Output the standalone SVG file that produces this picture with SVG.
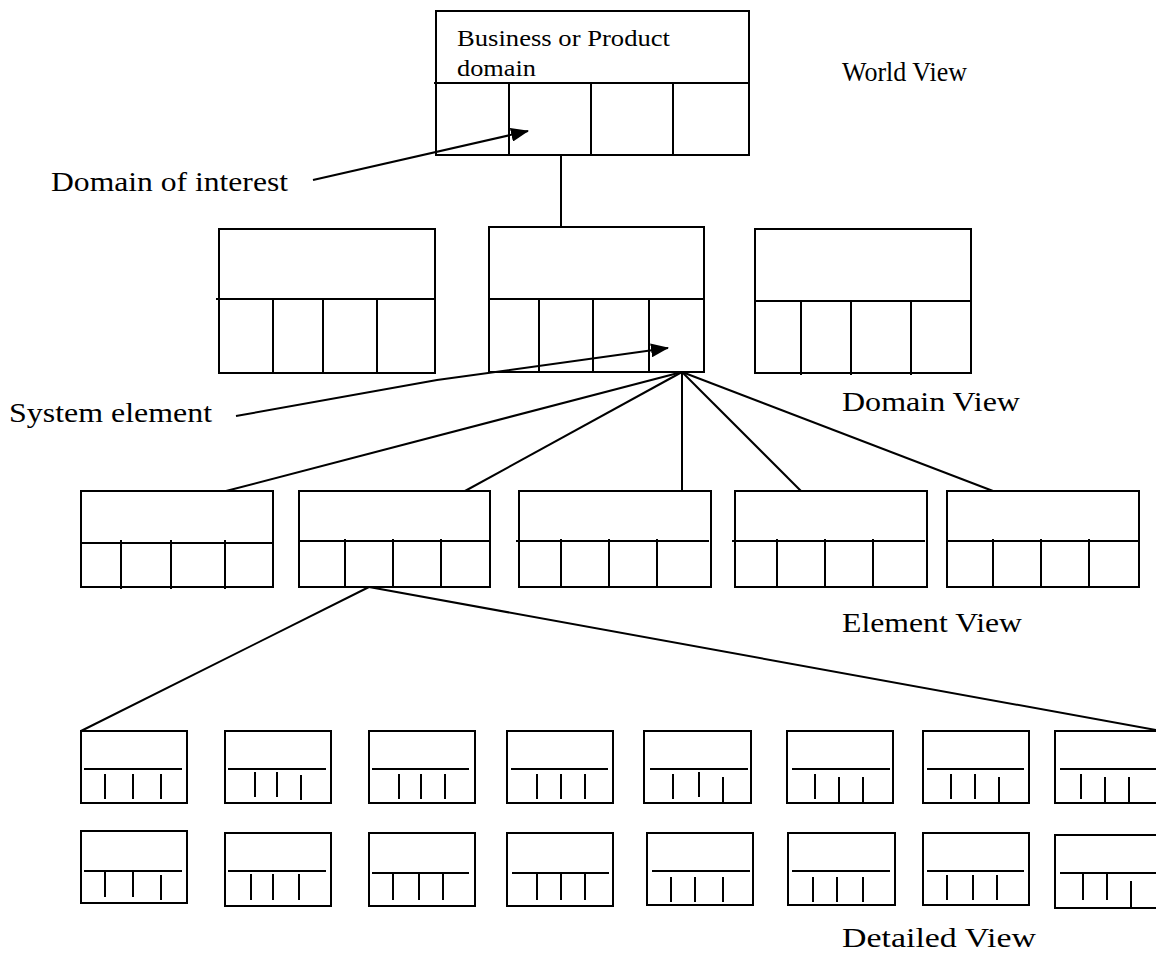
<svg xmlns="http://www.w3.org/2000/svg" width="1156" height="966" viewBox="0 0 1156 966">
  <defs>
    <marker id="arrow" viewBox="0 0 18 14" refX="17" refY="7" markerWidth="18" markerHeight="14" markerUnits="userSpaceOnUse" orient="auto">
      <path d="M0,0 L18,7 L0,14 z" fill="#000"/>
    </marker>
    <style>
      .box { fill: #fff; stroke: #000; stroke-width: 2; }
      .ln { stroke: #000; stroke-width: 2; fill: none; }
      .lbl { font-family: "Liberation Serif", "Times New Roman", serif; font-size: 28px; fill: #000; }
      .small { font-family: "Liberation Serif", "Times New Roman", serif; font-size: 23px; fill: #000; }
    </style>
  </defs>
  <rect width="1156" height="966" fill="#fff"/>

  <!-- tree connectors (drawn beneath the boxes) -->
  <g id="connectors">
    <line class="ln" x1="561" y1="155" x2="561" y2="228"/>
    <!-- fan from the selected domain to the element row -->
    <line class="ln" x1="682" y1="372" x2="226" y2="491"/>
    <line class="ln" x1="682" y1="372" x2="465" y2="491"/>
    <line class="ln" x1="682" y1="372" x2="682" y2="491"/>
    <line class="ln" x1="682" y1="372" x2="801" y2="491"/>
    <line class="ln" x1="682" y1="372" x2="993" y2="491"/>
    <!-- fan from the selected element to the detailed row -->
    <line class="ln" x1="369" y1="587" x2="81" y2="731"/>
    <line class="ln" x1="369" y1="587" x2="1156" y2="730"/>
  </g>

  <!-- world view -->
  <g id="world">
    <rect class="box" x="436" y="11" width="313" height="144"/>
    <line class="ln" x1="434" y1="83" x2="749" y2="83"/>
    <line class="ln" x1="509" y1="83" x2="509" y2="155"/>
    <line class="ln" x1="591" y1="83" x2="591" y2="155"/>
    <line class="ln" x1="673" y1="83" x2="673" y2="155"/>
    <text class="small" x="457" y="46" textLength="213" lengthAdjust="spacingAndGlyphs">Business or Product</text>
    <text class="small" x="457" y="76" textLength="79" lengthAdjust="spacingAndGlyphs">domain</text>
  </g>

  <!-- domain view -->
  <g id="domain-a">
    <rect class="box" x="219" y="229" width="216" height="144"/>
    <line class="ln" x1="216" y1="299" x2="435" y2="299"/>
    <line class="ln" x1="273" y1="299" x2="273" y2="373"/>
    <line class="ln" x1="323" y1="299" x2="323" y2="373"/>
    <line class="ln" x1="377" y1="299" x2="377" y2="373"/>
  </g>
  <g id="domain-b">
    <rect class="box" x="489" y="227" width="215" height="145"/>
    <line class="ln" x1="489" y1="299" x2="704" y2="299"/>
    <line class="ln" x1="539" y1="299" x2="539" y2="372"/>
    <line class="ln" x1="593" y1="299" x2="593" y2="372"/>
    <line class="ln" x1="649" y1="299" x2="649" y2="372"/>
  </g>
  <g id="domain-c">
    <rect class="box" x="755" y="229" width="216" height="144"/>
    <line class="ln" x1="755" y1="301" x2="971" y2="301"/>
    <line class="ln" x1="801" y1="301" x2="801" y2="375"/>
    <line class="ln" x1="851" y1="301" x2="851" y2="375"/>
    <line class="ln" x1="911" y1="301" x2="911" y2="375"/>
  </g>

  <!-- element view -->
  <g id="element-1">
    <rect class="box" x="81" y="491" width="192" height="96"/>
    <line class="ln" x1="81" y1="543" x2="273" y2="543"/>
    <line class="ln" x1="121" y1="540" x2="121" y2="589"/>
    <line class="ln" x1="171" y1="540" x2="171" y2="589"/>
    <line class="ln" x1="225" y1="540" x2="225" y2="589"/>
  </g>
  <g id="element-2">
    <rect class="box" x="299" y="491" width="191" height="96"/>
    <line class="ln" x1="299" y1="541" x2="490" y2="541"/>
    <line class="ln" x1="345" y1="539" x2="345" y2="587"/>
    <line class="ln" x1="393" y1="539" x2="393" y2="587"/>
    <line class="ln" x1="441" y1="539" x2="441" y2="587"/>
  </g>
  <g id="element-3">
    <rect class="box" x="519" y="491" width="192" height="96"/>
    <line class="ln" x1="516" y1="541" x2="709" y2="541"/>
    <line class="ln" x1="561" y1="539" x2="561" y2="587"/>
    <line class="ln" x1="609" y1="539" x2="609" y2="587"/>
    <line class="ln" x1="657" y1="539" x2="657" y2="587"/>
  </g>
  <g id="element-4">
    <rect class="box" x="735" y="491" width="192" height="96"/>
    <line class="ln" x1="732" y1="541" x2="925" y2="541"/>
    <line class="ln" x1="777" y1="539" x2="777" y2="587"/>
    <line class="ln" x1="825" y1="539" x2="825" y2="587"/>
    <line class="ln" x1="873" y1="539" x2="873" y2="587"/>
  </g>
  <g id="element-5">
    <rect class="box" x="947" y="491" width="192" height="96"/>
    <line class="ln" x1="947" y1="541" x2="1139" y2="541"/>
    <line class="ln" x1="993" y1="539" x2="993" y2="587"/>
    <line class="ln" x1="1041" y1="539" x2="1041" y2="587"/>
    <line class="ln" x1="1089" y1="539" x2="1089" y2="587"/>
  </g>

  <!-- detailed view, upper row -->
  <g id="detail-1-1">
    <rect class="box" x="81" y="731" width="106" height="72"/>
    <line class="ln" x1="84" y1="769" x2="182" y2="769"/>
    <line class="ln" x1="105" y1="774" x2="105" y2="799"/>
    <line class="ln" x1="133" y1="774" x2="133" y2="799"/>
    <line class="ln" x1="161" y1="774" x2="161" y2="799"/>
  </g>
  <g id="detail-1-2">
    <rect class="box" x="225" y="731" width="106" height="72"/>
    <line class="ln" x1="228" y1="769" x2="326" y2="769"/>
    <line class="ln" x1="255" y1="772" x2="255" y2="797"/>
    <line class="ln" x1="277" y1="772" x2="277" y2="797"/>
    <line class="ln" x1="301" y1="775" x2="301" y2="800"/>
  </g>
  <g id="detail-1-3">
    <rect class="box" x="369" y="731" width="106" height="72"/>
    <line class="ln" x1="372" y1="769" x2="469" y2="769"/>
    <line class="ln" x1="399" y1="774" x2="399" y2="799"/>
    <line class="ln" x1="421" y1="774" x2="421" y2="799"/>
    <line class="ln" x1="445" y1="774" x2="445" y2="799"/>
  </g>
  <g id="detail-1-4">
    <rect class="box" x="507" y="731" width="106" height="72"/>
    <line class="ln" x1="511" y1="769" x2="608" y2="769"/>
    <line class="ln" x1="537" y1="774" x2="537" y2="799"/>
    <line class="ln" x1="561" y1="774" x2="561" y2="799"/>
    <line class="ln" x1="585" y1="774" x2="585" y2="799"/>
  </g>
  <g id="detail-1-5">
    <rect class="box" x="644" y="731" width="107" height="72"/>
    <line class="ln" x1="650" y1="769" x2="748" y2="769"/>
    <line class="ln" x1="673" y1="774" x2="673" y2="799"/>
    <line class="ln" x1="699" y1="772" x2="699" y2="797"/>
    <line class="ln" x1="723" y1="777" x2="723" y2="802"/>
  </g>
  <g id="detail-1-6">
    <rect class="box" x="787" y="731" width="106" height="72"/>
    <line class="ln" x1="792" y1="769" x2="890" y2="769"/>
    <line class="ln" x1="815" y1="774" x2="815" y2="799"/>
    <line class="ln" x1="839" y1="777" x2="839" y2="802"/>
    <line class="ln" x1="863" y1="777" x2="863" y2="802"/>
  </g>
  <g id="detail-1-7">
    <rect class="box" x="923" y="731" width="106" height="72"/>
    <line class="ln" x1="927" y1="769" x2="1024" y2="769"/>
    <line class="ln" x1="951" y1="774" x2="951" y2="799"/>
    <line class="ln" x1="975" y1="774" x2="975" y2="799"/>
    <line class="ln" x1="999" y1="777" x2="999" y2="802"/>
  </g>
  <g id="detail-1-8">
    <rect class="box" x="1055" y="731" width="110" height="72"/>
    <line class="ln" x1="1060" y1="769" x2="1156" y2="769"/>
    <line class="ln" x1="1081" y1="774" x2="1081" y2="799"/>
    <line class="ln" x1="1105" y1="777" x2="1105" y2="802"/>
    <line class="ln" x1="1129" y1="777" x2="1129" y2="802"/>
  </g>

  <!-- detailed view, lower row -->
  <g id="detail-2-1">
    <rect class="box" x="81" y="831" width="106" height="72"/>
    <line class="ln" x1="84" y1="871" x2="182" y2="871"/>
    <line class="ln" x1="105" y1="872" x2="105" y2="897"/>
    <line class="ln" x1="133" y1="872" x2="133" y2="897"/>
    <line class="ln" x1="161" y1="875" x2="161" y2="900"/>
  </g>
  <g id="detail-2-2">
    <rect class="box" x="225" y="833" width="106" height="73"/>
    <line class="ln" x1="228" y1="871" x2="326" y2="871"/>
    <line class="ln" x1="251" y1="874" x2="251" y2="900"/>
    <line class="ln" x1="273" y1="874" x2="273" y2="900"/>
    <line class="ln" x1="299" y1="874" x2="299" y2="900"/>
  </g>
  <g id="detail-2-3">
    <rect class="box" x="369" y="833" width="106" height="73"/>
    <line class="ln" x1="372" y1="873" x2="469" y2="873"/>
    <line class="ln" x1="393" y1="874" x2="393" y2="900"/>
    <line class="ln" x1="419" y1="874" x2="419" y2="900"/>
    <line class="ln" x1="443" y1="874" x2="443" y2="900"/>
  </g>
  <g id="detail-2-4">
    <rect class="box" x="507" y="833" width="106" height="73"/>
    <line class="ln" x1="512" y1="873" x2="609" y2="873"/>
    <line class="ln" x1="537" y1="874" x2="537" y2="900"/>
    <line class="ln" x1="561" y1="874" x2="561" y2="900"/>
    <line class="ln" x1="585" y1="874" x2="585" y2="900"/>
  </g>
  <g id="detail-2-5">
    <rect class="box" x="647" y="833" width="106" height="72"/>
    <line class="ln" x1="652" y1="871" x2="750" y2="871"/>
    <line class="ln" x1="671" y1="877" x2="671" y2="902"/>
    <line class="ln" x1="695" y1="877" x2="695" y2="902"/>
    <line class="ln" x1="723" y1="877" x2="723" y2="902"/>
  </g>
  <g id="detail-2-6">
    <rect class="box" x="788" y="833" width="107" height="72"/>
    <line class="ln" x1="792" y1="871" x2="890" y2="871"/>
    <line class="ln" x1="813" y1="877" x2="813" y2="902"/>
    <line class="ln" x1="837" y1="877" x2="837" y2="902"/>
    <line class="ln" x1="863" y1="877" x2="863" y2="902"/>
  </g>
  <g id="detail-2-7">
    <rect class="box" x="923" y="833" width="106" height="72"/>
    <line class="ln" x1="927" y1="871" x2="1024" y2="871"/>
    <line class="ln" x1="947" y1="875" x2="947" y2="900"/>
    <line class="ln" x1="973" y1="875" x2="973" y2="900"/>
    <line class="ln" x1="997" y1="875" x2="997" y2="900"/>
  </g>
  <g id="detail-2-8">
    <rect class="box" x="1055" y="835" width="110" height="73"/>
    <line class="ln" x1="1060" y1="873" x2="1156" y2="873"/>
    <line class="ln" x1="1083" y1="873" x2="1083" y2="900"/>
    <line class="ln" x1="1107" y1="873" x2="1107" y2="900"/>
    <line class="ln" x1="1131" y1="881" x2="1131" y2="907"/>
  </g>

  <!-- callout arrows, drawn over the boxes -->
  <g id="callouts">
    <line class="ln" x1="313" y1="180" x2="528" y2="131" marker-end="url(#arrow)"/>
    <polyline class="ln" points="236,416 437,380 668,348" marker-end="url(#arrow)"/>
  </g>

  <!-- labels -->
  <g id="labels">
    <text class="lbl" x="842" y="81" font-size="26" textLength="125" lengthAdjust="spacingAndGlyphs">World View</text>
    <text class="lbl" x="51" y="191" textLength="237" lengthAdjust="spacingAndGlyphs">Domain of interest</text>
    <text class="lbl" x="842" y="411" textLength="178" lengthAdjust="spacingAndGlyphs">Domain View</text>
    <text class="lbl" x="9" y="422" textLength="203" lengthAdjust="spacingAndGlyphs">System element</text>
    <text class="lbl" x="842" y="632" textLength="180" lengthAdjust="spacingAndGlyphs">Element View</text>
    <text class="lbl" x="842" y="947" textLength="194" lengthAdjust="spacingAndGlyphs">Detailed View</text>
  </g>
</svg>
